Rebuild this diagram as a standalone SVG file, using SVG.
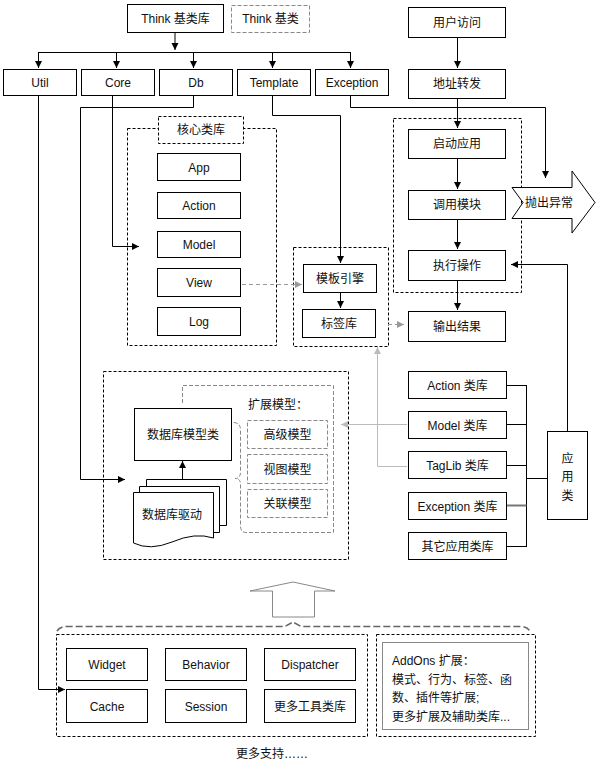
<svg xmlns="http://www.w3.org/2000/svg" width="597" height="767" viewBox="0 0 597 767">
<style>
text{font-family:"Liberation Sans","Noto Sans CJK SC",sans-serif;font-size:12px;fill:#111;}
.c{text-anchor:middle;}
.b{fill:#fff;stroke:#000;stroke-width:1;}
.dk{fill:none;stroke:#000;stroke-width:1;stroke-dasharray:3,2;}
.dkw{fill:#fff;stroke:#000;stroke-width:1;stroke-dasharray:3,2;}
.dg{fill:none;stroke:#888;stroke-width:1;stroke-dasharray:4,2;}
.g{fill:none;stroke:#888;stroke-width:1;}
.ln{fill:none;stroke:#000;stroke-width:1;}
.lnA{fill:none;stroke:#000;stroke-width:1;marker-end:url(#ah);}
.lnG{fill:none;stroke:#999;stroke-width:1;stroke-dasharray:4,3;marker-end:url(#ahg);}
.lnL{fill:none;stroke:#bbb;stroke-width:1;marker-end:url(#ahl);}
</style>
<defs>
<marker id="ah" markerUnits="userSpaceOnUse" markerWidth="8" markerHeight="8" refX="7" refY="4" orient="auto"><path d="M0,0.5 L7,4 L0,7.5 z" fill="#000"/></marker>
<marker id="ahg" markerUnits="userSpaceOnUse" markerWidth="8" markerHeight="8" refX="7" refY="4" orient="auto"><path d="M0,0.5 L7,4 L0,7.5 z" fill="#999"/></marker>
<marker id="ahl" markerUnits="userSpaceOnUse" markerWidth="8" markerHeight="8" refX="7" refY="4" orient="auto"><path d="M0,0.5 L7,4 L0,7.5 z" fill="#bbb"/></marker>
</defs>
<rect width="597" height="767" fill="#fff"/>

<!-- containers -->
<g id="core-group">
<rect class="dk" x="127.5" y="128.5" width="149" height="217"/>
<rect class="dkw" x="158.5" y="116.5" width="85" height="27"/>
<text class="c" x="201" y="134">核心类库</text>
</g>
<g id="tpl-group"><rect class="dk" x="293.5" y="247.5" width="95" height="99"/></g>
<g id="app-flow-group"><rect class="dk" x="393.5" y="118.5" width="128" height="174"/></g>
<g id="db-group"><rect class="dk" x="103.5" y="371.5" width="245" height="188"/></g>
<g id="ext-group">
<path class="dg" d="M182.5,403 V385.5 H333.5 V532.5 H246 Q240.5,532.5 240.5,526 V484 Q240.5,478.5 235,478.5 Q240.5,478.5 240.5,472 V430 Q240.5,422.5 233,422.5"/>
<text x="248" y="409">扩展模型：</text>
</g>
<g id="tools-group"><rect class="dk" x="56.5" y="634.5" width="311" height="102"/></g>
<g id="addons-group"><rect class="dk" x="376.5" y="634.5" width="159" height="102"/></g>

<!-- connectors -->
<g id="connectors">
<path class="lnA" d="M175,32 V50"/>
<path class="ln" d="M38.5,52.5 H350.5"/>
<path class="lnA" d="M38.5,52 V68"/>
<path class="lnA" d="M116.5,52 V68"/>
<path class="lnA" d="M193.5,52 V68"/>
<path class="lnA" d="M272.5,52 V68"/>
<path class="lnA" d="M350.5,52 V68"/>
<path class="lnA" d="M38.5,95 V689.5 H65"/>
<path class="lnA" d="M112.5,95 V246.5 H139"/>
<path class="lnA" d="M193.5,95 V107.5 H80.5 V479.5 H125"/>
<path class="lnA" d="M272.5,95 V115.5 H340.5 V263"/>
<path class="lnA" d="M350.5,95 V107.5 H545.5 V178"/>
<path class="lnA" d="M457.5,37 V68"/>
<path class="lnA" d="M457.5,98 V128"/>
<path class="lnA" d="M457.5,158 V189"/>
<path class="lnA" d="M457.5,219 V249"/>
<path class="lnA" d="M457.5,280 V310"/>
<path class="lnA" d="M340.5,292 V308"/>
<path class="lnA" d="M182.5,479 V461"/>
<path class="lnA" d="M567.5,431 V264.5 H511"/>
<path class="lnG" d="M235,284.5 H302"/>
<path class="lnG" d="M388,324.5 H404"/>
<path class="lnL" d="M407,466.5 H377.5 V347"/>
<path class="lnL" d="M407,424.5 H341"/>
<path class="ln" d="M506,385.5 H526.5 M506,424.5 H526.5 M506,465.5 H526.5 M506,546.5 H526.5 M526.5,385 V547 M526.5,478.5 H547"/>
<path d="M506,505.5 H526.5" stroke="#777" stroke-width="2" fill="none"/>
<path d="M57,631 Q60,626.5 67,626.5 H285 L293,622 L301,626.5 H520 Q527,626.5 530,631" fill="none" stroke="#666" stroke-width="1.5" stroke-dasharray="7,3"/>
<polygon points="272.5,617 272.5,591 250,591 293,582 335,591 314.5,591 314.5,617" fill="#fff" stroke="#888" stroke-width="1"/>
</g>

<!-- nodes -->
<g id="think-base"><rect class="b" x="127.5" y="4.5" width="96" height="28"/><text class="c" x="175.5" y="23">Think 基类库</text></g>
<g id="think-base-legend"><rect x="231.5" y="5.5" width="78" height="27" fill="#fff" stroke="#888" stroke-dasharray="4,2"/><text class="c" x="270.5" y="23">Think 基类</text></g>
<g id="util"><rect class="b" x="3.5" y="69.5" width="73" height="26"/><text class="c" x="40" y="87">Util</text></g>
<g id="core"><rect class="b" x="81.5" y="69.5" width="73" height="26"/><text class="c" x="118" y="87">Core</text></g>
<g id="db"><rect class="b" x="159.5" y="69.5" width="73" height="26"/><text class="c" x="196" y="87">Db</text></g>
<g id="template"><rect class="b" x="237.5" y="69.5" width="73" height="26"/><text class="c" x="274" y="87">Template</text></g>
<g id="exception"><rect class="b" x="315.5" y="69.5" width="73" height="26"/><text class="c" x="352" y="87">Exception</text></g>

<g id="user-visit"><rect class="b" x="408.5" y="7.5" width="97" height="30"/><text class="c" x="457" y="26.5">用户访问</text></g>
<g id="url-dispatch"><rect class="b" x="408.5" y="69.5" width="97" height="29"/><text class="c" x="457" y="88">地址转发</text></g>
<g id="start-app"><rect class="b" x="408.5" y="129.5" width="97" height="29"/><text class="c" x="457" y="148">启动应用</text></g>
<g id="call-module"><rect class="b" x="408.5" y="190.5" width="97" height="29"/><text class="c" x="457" y="209">调用模块</text></g>
<g id="exec-action"><rect class="b" x="408.5" y="250.5" width="97" height="30"/><text class="c" x="457" y="269.5">执行操作</text></g>
<g id="output"><rect class="b" x="408.5" y="311.5" width="97" height="30"/><text class="c" x="457" y="330.5">输出结果</text></g>
<g id="throw-exception"><polygon points="512,187.5 572,187.5 572,171 595,202.5 572,233 572,218.5 512,218.5 523,202.5" fill="#fff" stroke="#000"/><text class="c" x="549" y="207">抛出异常</text></g>

<g id="app"><rect class="b" x="157.5" y="153.5" width="83" height="27"/><text class="c" x="199" y="171.5">App</text></g>
<g id="action"><rect class="b" x="157.5" y="192.5" width="83" height="26"/><text class="c" x="199" y="210">Action</text></g>
<g id="model"><rect class="b" x="157.5" y="231.5" width="83" height="26"/><text class="c" x="199" y="249">Model</text></g>
<g id="view"><rect class="b" x="157.5" y="268.5" width="83" height="28"/><text class="c" x="199" y="287">View</text></g>
<g id="log"><rect class="b" x="157.5" y="307.5" width="83" height="28"/><text class="c" x="199" y="326">Log</text></g>

<g id="tpl-engine"><rect class="b" x="303.5" y="264.5" width="73" height="28"/><text class="c" x="340" y="283">模板引擎</text></g>
<g id="taglib"><rect class="b" x="302.5" y="309.5" width="73" height="28"/><text class="c" x="339" y="328">标签库</text></g>

<g id="db-model"><rect class="b" x="134.5" y="408.5" width="97" height="52"/><text class="c" x="183" y="439">数据库模型类</text></g>
<g id="db-driver">
<path class="b" d="M146.5,479.5 H226.5 V525.5 H146.5 Z"/>
<path class="b" d="M139.5,486.5 H219.5 V532.5 H139.5 Z"/>
<path class="b" d="M133.5,492.5 H213.5 V538 Q195,532 172,542 Q150,551 133.5,543 Z"/>
<text class="c" x="172" y="519">数据库驱动</text>
</g>
<g id="adv-model"><rect x="247.5" y="420.5" width="80" height="28" fill="#fff" stroke="#888" stroke-dasharray="4,2"/><text class="c" x="287.5" y="439">高级模型</text></g>
<g id="view-model"><rect x="247.5" y="454.5" width="80" height="29" fill="#fff" stroke="#888" stroke-dasharray="4,2"/><text class="c" x="287.5" y="473.5">视图模型</text></g>
<g id="rel-model"><rect x="247.5" y="489.5" width="80" height="28" fill="#fff" stroke="#888" stroke-dasharray="4,2"/><text class="c" x="287.5" y="508">关联模型</text></g>

<g id="action-lib"><rect class="b" x="408.5" y="371.5" width="98" height="27"/><text class="c" x="457.5" y="389.5">Action 类库</text></g>
<g id="model-lib"><rect class="b" x="408.5" y="411.5" width="98" height="27"/><text class="c" x="457.5" y="429.5">Model 类库</text></g>
<g id="taglib-lib"><rect class="b" x="408.5" y="451.5" width="98" height="27"/><text class="c" x="457.5" y="469.5">TagLib 类库</text></g>
<g id="exception-lib"><rect class="b" x="408.5" y="492.5" width="98" height="27"/><text class="c" x="457.5" y="510.5">Exception 类库</text></g>
<g id="other-lib"><rect class="b" x="408.5" y="532.5" width="98" height="27"/><text class="c" x="457.5" y="550.5">其它应用类库</text></g>
<g id="app-class"><rect class="b" x="547.5" y="431.5" width="40" height="88"/><text class="c" x="567.5" y="463">应</text><text class="c" x="567.5" y="481">用</text><text class="c" x="567.5" y="500">类</text></g>

<g id="widget"><rect class="b" x="66.5" y="648.5" width="81" height="32"/><text class="c" x="107" y="669">Widget</text></g>
<g id="behavior"><rect class="b" x="165.5" y="648.5" width="81" height="32"/><text class="c" x="206" y="669">Behavior</text></g>
<g id="dispatcher"><rect class="b" x="264.5" y="648.5" width="91" height="32"/><text class="c" x="310" y="669">Dispatcher</text></g>
<g id="cache"><rect class="b" x="66.5" y="689.5" width="81" height="33"/><text class="c" x="107" y="710.5">Cache</text></g>
<g id="session"><rect class="b" x="165.5" y="689.5" width="81" height="33"/><text class="c" x="206" y="710.5">Session</text></g>
<g id="more-tools"><rect class="b" x="264.5" y="689.5" width="91" height="33"/><text class="c" x="310" y="710.5">更多工具类库</text></g>
<g id="addons"><rect x="382.5" y="642.5" width="146" height="87" fill="#fff" stroke="#888"/>
<text x="392" y="665">AddOns 扩展：</text>
<text x="392" y="684">模式、行为、标签、函</text>
<text x="392" y="702">数、插件等扩展;</text>
<text x="392" y="721">更多扩展及辅助类库...</text>
</g>
<g id="more-support"><text class="c" x="272" y="758">更多支持……</text></g>
</svg>
